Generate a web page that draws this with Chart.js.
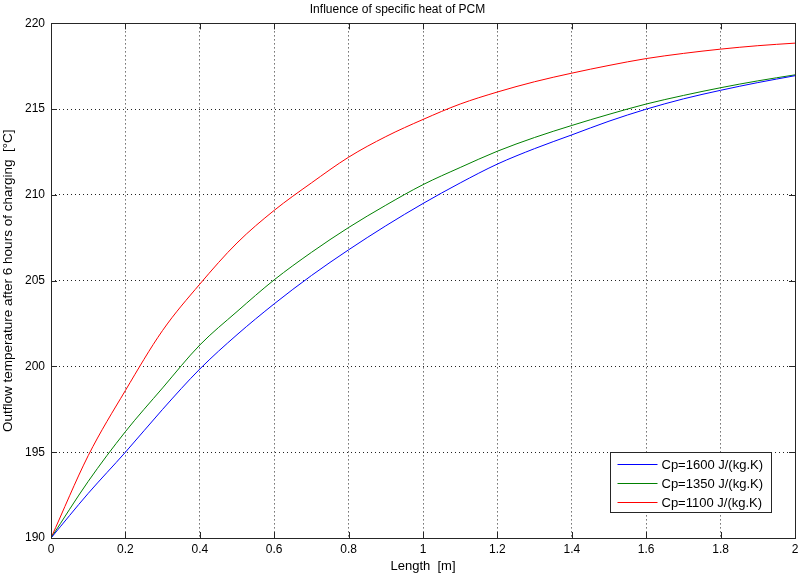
<!DOCTYPE html>
<html>
<head>
<meta charset="utf-8">
<script src="https://cdn.jsdelivr.net/npm/chart.js@4/dist/chart.umd.min.js"></script>
<style>
	html, body { margin: 0; padding: 0; background: #fff; }
	#wrap { width: 798px; height: 574px; }
</style>
</head>
<body>
<div id="wrap"><canvas id="chart"></canvas></div>
<script>
const lengths = [0, 0.1, 0.2, 0.3, 0.4, 0.5, 0.6, 0.7, 0.8, 0.9, 1.0, 1.1, 1.2, 1.3, 1.4, 1.5, 1.6, 1.7, 1.8, 1.9, 2.0];
const cp1600 = [190, 192.6, 195.0, 197.5, 199.85, 201.85, 203.65, 205.3, 206.8, 208.2, 209.5, 210.7, 211.8, 212.7, 213.5, 214.3, 215.0, 215.6, 216.1, 216.55, 216.95];
const cp1350 = [190, 193.3, 196.2, 198.75, 201.25, 203.2, 205.05, 206.65, 208.1, 209.4, 210.6, 211.6, 212.55, 213.35, 214.05, 214.7, 215.3, 215.8, 216.25, 216.65, 217.0];
const cp1100 = [190, 194.8, 198.6, 202.1, 204.8, 207.2, 209.1, 210.7, 212.2, 213.4, 214.4, 215.3, 216.0, 216.6, 217.1, 217.55, 217.95, 218.25, 218.5, 218.7, 218.85];
const seriesLabels = ['Cp=1600 J/(kg.K)', 'Cp=1350 J/(kg.K)', 'Cp=1100 J/(kg.K)'];
const seriesColors = ['#0000ff', '#008000', '#ff0000'];

const font = 'Liberation Sans, Arial, sans-serif';
Chart.defaults.font.family = font;
Chart.defaults.color = '#000';

function toPoints(ys) {
	return lengths.map((x, i) => ({ x: x, y: ys[i] }));
}

// frame round the plot, ticks pointing inwards, legend inside the box
const matlabBox = {
	id: 'matlabBox',
	afterDraw(chart) {
		const ctx = chart.ctx;
		const a = chart.chartArea;
		const sx = chart.scales.x, sy = chart.scales.y;
		ctx.save();
		ctx.strokeStyle = '#262626';
		ctx.lineWidth = 1;
		ctx.strokeRect(Math.round(a.left) + 0.5, Math.round(a.top) + 0.5, Math.round(a.right - a.left), Math.round(a.bottom - a.top));
		ctx.beginPath();
		sx.ticks.forEach(t => {
			const px = Math.round(sx.getPixelForValue(t.value)) + 0.5;
			ctx.moveTo(px, a.bottom); ctx.lineTo(px, a.bottom - 6);
			ctx.moveTo(px, a.top); ctx.lineTo(px, a.top + 6);
		});
		sy.ticks.forEach(t => {
			const py = Math.round(sy.getPixelForValue(t.value)) + 0.5;
			ctx.moveTo(a.left, py); ctx.lineTo(a.left + 6, py);
			ctx.moveTo(a.right, py); ctx.lineTo(a.right - 6, py);
		});
		ctx.stroke();

		// legend
		ctx.font = '13px ' + font;
		const w = 161, h = 60;
		const x0 = Math.round(a.right - 24 - w) + 0.5;
		const y0 = Math.round(a.bottom - 26 - h) + 0.5;
		ctx.fillStyle = '#fff';
		ctx.fillRect(x0, y0, w, h);
		ctx.strokeStyle = '#262626';
		ctx.strokeRect(x0, y0, w, h);
		chart.data.datasets.forEach((ds, i) => {
			const cy = Math.round(y0 + 11 + i * 19) + 0.5;
			ctx.strokeStyle = ds.borderColor;
			ctx.beginPath();
			ctx.moveTo(x0 + 7, cy); ctx.lineTo(x0 + 47, cy);
			ctx.stroke();
			ctx.fillStyle = '#000';
			ctx.textBaseline = 'middle';
			ctx.fillText(ds.label, x0 + 51, cy + 1);
		});
		ctx.restore();
	}
};

const datasets = [cp1600, cp1350, cp1100].map((ys, i) => ({
	label: seriesLabels[i],
	data: toPoints(ys),
	borderColor: seriesColors[i],
	backgroundColor: seriesColors[i],
	borderWidth: 1,
	pointRadius: 0,
	cubicInterpolationMode: 'monotone',
	fill: false,
}));

new Chart(document.getElementById('chart').getContext('2d'), {
	type: 'line',
	data: { datasets: datasets },
	options: {
		responsive: true,
		maintainAspectRatio: false,
		animation: false,
		layout: { padding: { top: 0, left: 0, right: 3, bottom: 0 } },
		plugins: {
			legend: { display: false },
			tooltip: { enabled: false },
			title: {
				display: true,
				text: 'Influence of specific heat of PCM',
				font: { size: 12, weight: 'normal' },
				padding: { top: 2, bottom: 7 },
			},
		},
		scales: {
			x: {
				type: 'linear',
				min: 0,
				max: 2,
				afterFit: s => { s.height = 36; s.paddingRight = 0; s.paddingLeft = 0; },
				ticks: {
					stepSize: 0.2, padding: 4, font: { size: 12 }, maxRotation: 0,
					callback: v => String(Math.round(v * 10) / 10),
				},
				grid: { color: '#222', drawTicks: false, lineWidth: 1 },
				border: { display: false, dash: [1, 3] },
				title: { display: true, text: 'Length  [m]', font: { size: 13 }, padding: { top: 1, bottom: 0 } },
			},
			y: {
				min: 190,
				max: 220,
				afterFit: s => { s.width = 51; },
				ticks: { stepSize: 5, padding: 6, font: { size: 12 } },
				grid: { color: '#222', drawTicks: false, lineWidth: 1 },
				border: { display: false, dash: [1, 3] },
				title: { display: true, text: 'Outflow temperature after 6 hours of charging  [°C]', font: { size: 13.5 }, padding: { top: 0, bottom: 0 } },
			},
		},
	},
	plugins: [matlabBox],
});
</script>
</body>
</html>
